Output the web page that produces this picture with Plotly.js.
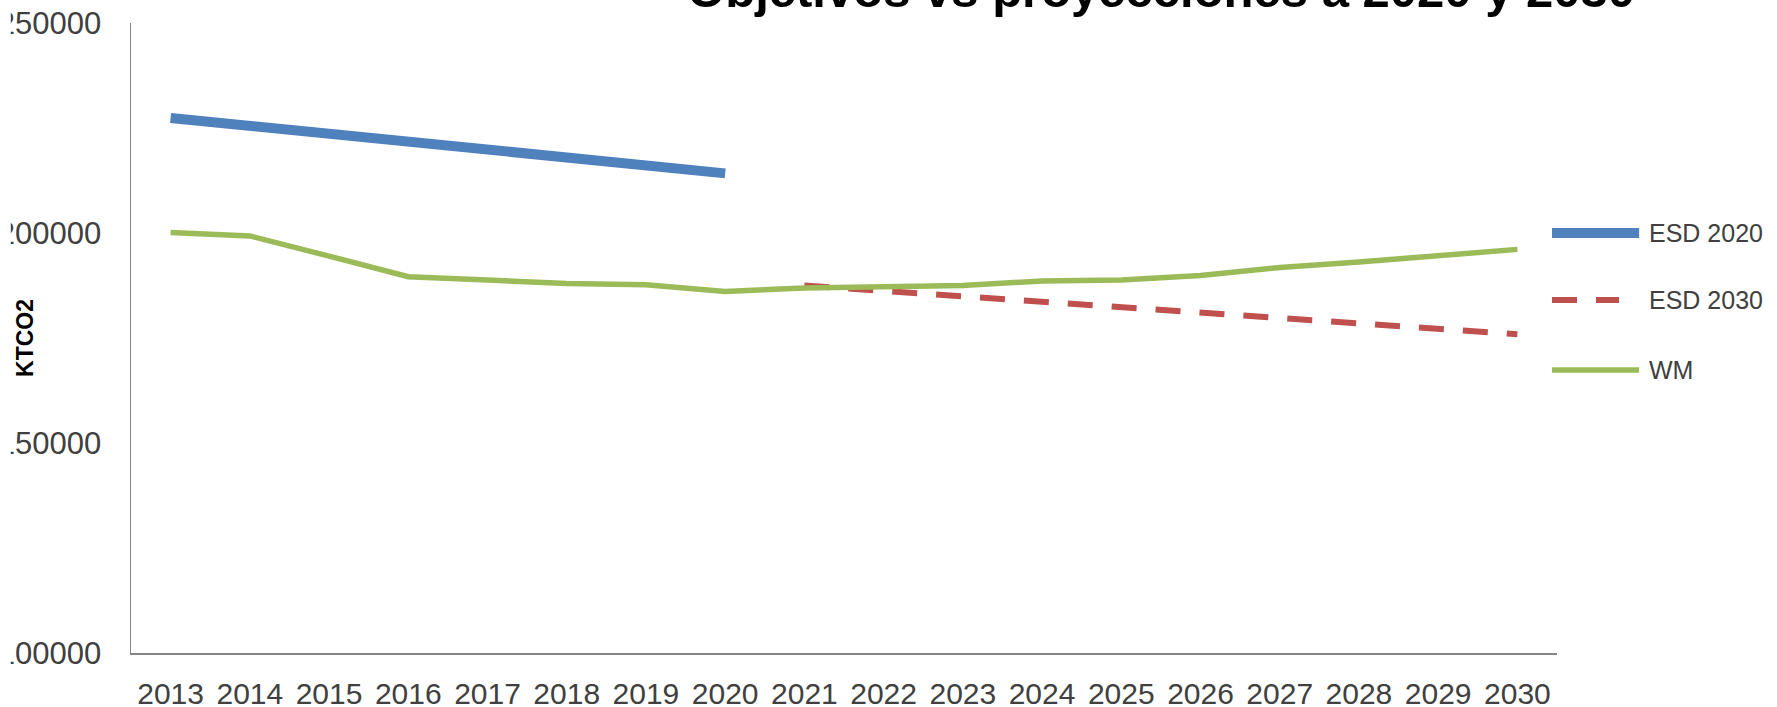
<!DOCTYPE html>
<html>
<head>
<meta charset="utf-8">
<script src="https://cdn.plot.ly/plotly-3.0.1.min.js"></script>
<style>html,body{margin:0;padding:0;background:#fff;}#chart{width:1777px;height:707px;}</style>
</head>
<body>
<div id="chart"></div>
<script>
const years = ['2013','2014','2015','2016','2017','2018','2019','2020','2021','2022','2023','2024','2025','2026','2027','2028','2029','2030'];
const esd2020 = [227400, 225500, 223600, 221700, 219800, 217900, 216000, 214200, null, null, null, null, null, null, null, null, null, null];
const esd2030 = [null, null, null, null, null, null, null, null, 187500, 186200, 184900, 183600, 182300, 181000, 179700, 178500, 177200, 175900];
const wm = [200100, 199300, 194500, 189600, 188800, 188000, 187700, 186100, 186900, 187200, 187500, 188600, 188800, 189900, 191800, 193100, 194500, 196100];
const seriesNames = ['ESD 2020', 'ESD 2030', 'WM'];
const yTicks = [100000, 150000, 200000, 250000];

const colors = ['#4F81BD', '#C0504D', '#9BBB59'];
const widths = [10, 6, 5.5];
const dashes = ['solid', '25px,19px', 'solid'];
const seriesData = [esd2020, esd2030, wm];

const traces = seriesData.map((d, i) => ({
  type: 'scatter', mode: 'lines', x: years, y: d, name: seriesNames[i],
  connectgaps: false, showlegend: false,
  line: {color: colors[i], width: widths[i], dash: dashes[i]}
}));

// custom legend (long line samples like the original)
const legY = [0.6667, 0.5603, 0.4492];
const legX1 = [1.0576, 1.0435, 1.0576];
const shapes = seriesNames.map((n, i) => ({
  type: 'line', xref: 'paper', yref: 'paper', x0: 0.9965, x1: legX1[i], y0: legY[i], y1: legY[i],
  line: {color: colors[i], width: widths[i], dash: dashes[i]}
}));
// left edge of the original picture is cropped (first digit of y labels cut)
shapes.push({
  type: 'rect', xref: 'paper', yref: 'paper', x0: -0.1, x1: -0.0843, y0: -0.1, y1: 1.05,
  fillcolor: '#ffffff', line: {width: 0}, layer: 'above'
});
const annotations = seriesNames.map((n, i) => ({
  xref: 'paper', yref: 'paper', x: 1.0632, y: legY[i], xanchor: 'left', yanchor: 'middle',
  text: n, showarrow: false, font: {family: 'Liberation Sans', size: 25, color: '#404040'}
}));
annotations.push({
  xref: 'paper', yref: 'paper', x: -0.0744, y: 0.5, xanchor: 'center', yanchor: 'middle',
  text: 'KTCO2', textangle: -90, showarrow: false,
  font: {family: 'Liberation Sans', size: 23, color: '#000', weight: 'bold'}
});

const layout = {
  width: 1777, height: 707,
  margin: {l: 131, r: 220, t: 23, b: 54, pad: 0},
  paper_bgcolor: '#fff', plot_bgcolor: '#fff',
  title: {
    text: 'Objetivos vs proyecciones a 2020 y 2030',
    xref: 'container', yref: 'container', x: 0.6534, xanchor: 'center', y: 0.990, yanchor: 'bottom',
    font: {family: 'Liberation Sans', size: 49, color: '#000', weight: 'bold'}
  },
  showlegend: false,
  xaxis: {
    type: 'category', range: [-0.5, 17.5], showline: true, linecolor: '#868686', linewidth: 1.5,
    showgrid: false, zeroline: false, ticks: '', ticklabelstandoff: 13,
    tickfont: {family: 'Liberation Sans', size: 30, color: '#404040'}
  },
  yaxis: {
    range: [100000, 250000], tickvals: yTicks, ticktext: yTicks.map(String),
    showline: true, linecolor: '#868686', linewidth: 1.5, showgrid: false, zeroline: false,
    ticks: '', ticklabelstandoff: 22,
    tickfont: {family: 'Liberation Sans', size: 31, color: '#404040'}
  },
  shapes: shapes,
  annotations: annotations
};

Plotly.newPlot('chart', traces, layout, {displayModeBar: false, staticPlot: true});
</script>
</body>
</html>
